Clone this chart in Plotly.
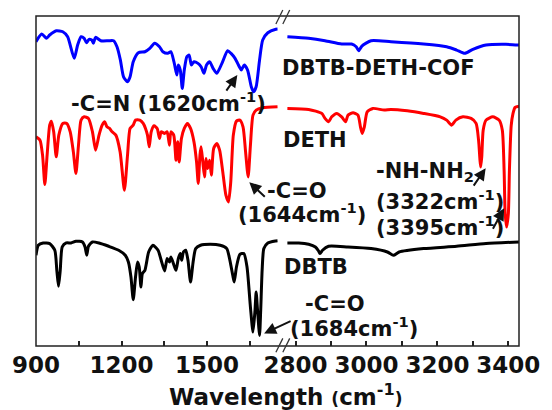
import plotly.graph_objects as go

# FT-IR spectra (transmittance, arbitrary units, stacked), wavenumber in cm^-1
COF_WN = [900, 920, 937, 948, 971, 994, 1011, 1034, 1046, 1058,
          1069, 1077, 1086, 1096, 1101, 1109, 1127, 1155, 1172, 1184,
          1196, 1207, 1221, 1230, 1241, 1259, 1282, 1299, 1316, 1333,
          1345, 1362, 1373, 1385, 1394, 1399, 1406, 1413, 1420, 1429,
          1437, 1445, 1454, 1468, 1479, 1489, 1498, 1509, 1521, 1534,
          1552, 1572, 1584, 1598, 1613, 1620, 1630, 1642, 1655, 1663,
          1672, 1684, 1695, 1713, 1741, 1747,
          2777, 2837, 2883, 2930, 2958, 2971, 2978, 2987, 3013, 3069,
          3161, 3226, 3254, 3277, 3300, 3337, 3393, 3430]
COF_T = [304, 311.6, 307.3, 310.6, 314.9, 313.9, 308.9, 287.3, 300.6, 308.9,
         307.3, 302.9, 306.3, 305.6, 302.3, 308.3, 304.9, 304.9, 304.9, 298.9,
         285.6, 268.9, 263.9, 268.9, 283.9, 292.9, 293.9, 297.3, 302.3, 298.9,
         293.9, 292.3, 293.9, 282.3, 270.6, 280.6, 275.6, 257.3, 275.6, 288.9,
         290.6, 280.6, 283.9, 282.3, 278.9, 272.3, 280.6, 283.9, 277.3, 272.3,
         282.3, 294.9, 292.3, 287.3, 278.9, 275.6, 280.6, 275.6, 258.9, 253.9,
         258.9, 285.6, 305.6, 312.9, 316.3, 316.5,
         308.9, 307.3, 304.9, 301.6, 301.6, 298.9, 294.9, 299.6, 304.9, 303.9,
         301.6, 298.9, 295.6, 292.3, 296.3, 300.6, 301.3, 300.6]

DETH_WN = [900, 914, 923, 931, 939, 948, 954, 962, 971, 980,
           994, 1008, 1020, 1031, 1040, 1049, 1058, 1069, 1084, 1098,
           1109, 1121, 1132, 1141, 1149, 1158, 1167, 1180, 1195, 1210,
           1221, 1230, 1241, 1249, 1264, 1276, 1284, 1291, 1297, 1304,
           1314, 1325, 1333, 1339, 1351, 1360, 1368, 1373, 1383, 1391,
           1397, 1402, 1410, 1420, 1431, 1442, 1454, 1463, 1469, 1475,
           1479, 1485, 1491, 1496, 1502, 1509, 1515, 1523, 1534, 1544,
           1555, 1566, 1575, 1583, 1592, 1603, 1615, 1626, 1635, 1644,
           1652, 1661, 1672, 1695, 1747,
           2777, 2837, 2874, 2883, 2893, 2902, 2916, 2930, 2941, 2948,
           2962, 2976, 2983, 2988, 2994, 3002, 3018, 3050, 3069, 3115,
           3161, 3208, 3226, 3240, 3252, 3272, 3295, 3309, 3316, 3320,
           3322, 3325, 3329, 3337, 3356, 3374, 3383, 3388, 3391, 3395,
           3400, 3403, 3408, 3413, 3419, 3430]
DETH_T = [208.9, 205.6, 190.6, 161.3, 190.6, 220.6, 224.6, 213.9, 188.9, 210.6,
          222.3, 222.3, 213.9, 193.9, 172.3, 200.6, 225.6, 228.9, 227.3, 213.9,
          195.6, 210.6, 220.6, 223.9, 218.9, 217.3, 213.9, 210.6, 193.9, 155.6,
          190.6, 217.3, 220.6, 225.6, 225.6, 222.3, 217.3, 210.6, 198.9, 213.9,
          219.9, 217.3, 207.3, 213.9, 212.3, 213.9, 200.6, 213.9, 210.6, 185.6,
          203.9, 183.9, 207.3, 217.3, 222.3, 217.3, 203.9, 183.9, 162.3, 190.6,
          198.9, 183.9, 168.9, 187.3, 177.3, 185.6, 170.6, 197.3, 202.3, 195.6,
          173.9, 150.6, 143.9, 163.9, 210.6, 224.6, 225.6, 218.9, 193.9, 168.9,
          200.6, 230.6, 235.6, 237.9, 238.9,
          237.3, 236.3, 232.3, 227.3, 223.9, 228.9, 232.3, 228.9, 223.9, 230.6,
          232.9, 230.6, 218.9, 212.3, 218.9, 233.9, 237.3, 235.6, 236.3, 234.9,
          232.3, 228.9, 225.6, 220.6, 225.6, 228.9, 227.3, 222.3, 205.6, 185.6,
          178.9, 188.9, 215.6, 225.6, 228.9, 225.6, 215.6, 175.6, 132.3, 118.9,
          132.3, 175.6, 220.0, 232.0, 238.3, 239.6]

DBTB_WN = [900, 908, 925, 948, 966, 973, 979, 985, 992, 1006,
           1023, 1040, 1063, 1072, 1078, 1084, 1098, 1121, 1155, 1190,
           1213, 1224, 1233, 1241, 1249, 1256, 1262, 1268, 1273, 1282,
           1287, 1295, 1310, 1328, 1339, 1351, 1360, 1368, 1373, 1382,
           1391, 1399, 1406, 1411, 1417, 1425, 1433, 1442, 1451, 1460,
           1477, 1511, 1546, 1569, 1580, 1590, 1595, 1603, 1615, 1629,
           1640, 1652, 1661, 1668, 1672, 1677, 1684, 1688, 1693, 1699,
           1713, 1741, 1747,
           2777, 2809, 2837, 2856, 2865, 2869, 2876, 2893, 2948, 3013,
           3059, 3076, 3092, 3161, 3254, 3337, 3430]
DBTB_T = [90.6, 100.6, 102.9, 102.3, 95.6, 75.6, 59.6, 75.6, 98.9, 102.9,
          102.9, 104.6, 103.9, 98.9, 90.6, 99.6, 103.9, 102.9, 99.6, 95.6,
          90.6, 83.9, 68.9, 46.3, 68.9, 83.9, 78.9, 58.9, 72.3, 75.6,
          82.3, 93.9, 100.6, 95.6, 85.6, 74.9, 87.3, 83.9, 88.9, 82.3,
          75.6, 87.3, 92.3, 85.6, 93.9, 95.6, 85.6, 63.9, 83.9, 97.3,
          100.6, 101.6, 100.6, 97.3, 85.6, 70.6, 63.9, 78.9, 91.6, 92.3,
          78.9, 38.9, 13.9, 35.6, 53.9, 35.6, 10.6, 35.6, 75.6, 97.3,
          102.9, 104.9, 105.1,
          102.9, 102.9, 101.6, 98.9, 94.9, 92.3, 95.6, 99.6, 98.9, 97.3,
          93.9, 90.6, 93.9, 97.3, 99.6, 102.3, 103.9]

SERIES = [("DBTB-DETH-COF", COF_WN, COF_T, "#0000ff"),
          ("DETH", DETH_WN, DETH_T, "#ff0000"),
          ("DBTB", DBTB_WN, DBTB_T, "#000000")]

LEFT_TICKS = [900, 1200, 1500]
LEFT_MINOR = [1050, 1350, 1650]
RIGHT_TICKS = [2800, 3000, 3200, 3400]
RIGHT_MINOR = [2900, 3100, 3300]

BREAK = 2000          # split between the fingerprint and the N-H/C-H regions
LEFT_DOMAIN = [0.0, 0.503]
RIGHT_DOMAIN = [0.519, 1.0]

FONT = "DejaVu Sans"
INK = "#111111"

fig = go.Figure()
for name, wn, t, color in SERIES:
    lo = [(w, v) for w, v in zip(wn, t) if w < BREAK]
    hi = [(w, v) for w, v in zip(wn, t) if w >= BREAK]
    for pts, xa in ((lo, "x"), (hi, "x2")):
        fig.add_trace(go.Scatter(
            x=[p[0] for p in pts], y=[p[1] for p in pts], xaxis=xa, yaxis="y",
            mode="lines", name=name, showlegend=False,
            line=dict(color=color, width=3, shape="spline", smoothing=0.6)))

tickfont = dict(family=FONT, size=23, color=INK, weight="bold")


def axis(domain, rng, major, minor):
    return dict(domain=domain, range=rng, anchor="y",
                tickmode="array", tickvals=major, ticks="inside",
                ticklen=5, tickwidth=1.5, tickcolor="#222",
                minor=dict(tickmode="array", tickvals=minor, ticks="inside",
                           ticklen=5, tickwidth=1.5, tickcolor="#222"),
                ticklabelstandoff=3,
                showgrid=False, zeroline=False, showline=False,
                tickfont=tickfont)


fig.update_layout(
    width=552, height=410,
    margin=dict(l=36, r=25, t=16, b=64),
    paper_bgcolor="white", plot_bgcolor="white",
    xaxis=axis(LEFT_DOMAIN, [900, 1752], LEFT_TICKS, LEFT_MINOR),
    xaxis2=axis(RIGHT_DOMAIN, [2775, 3430], RIGHT_TICKS, RIGHT_MINOR),
    yaxis=dict(range=[0, 329.6], visible=False, fixedrange=True),
)

# frame around the whole plotting area
fig.add_shape(type="rect", xref="paper", yref="paper", x0=0, x1=1, y0=0, y1=1,
              line=dict(color="#222", width=1.5))

# axis-break marks "//" at top and bottom of the gap
gx = (LEFT_DOMAIN[1] + RIGHT_DOMAIN[0]) / 2
dx, dy = 0.0143, 0.021
for yc in (0.002, 0.997):
    for off in (-dx / 2, dx / 2):
        fig.add_shape(type="line", xref="paper", yref="paper",
                      x0=gx + off - dx / 2, x1=gx + off + dx / 2,
                      y0=yc - dy, y1=yc + dy,
                      line=dict(color="#333", width=1.3))

lab = dict(family=FONT, size=21, color=INK, weight="bold")


def text(x, y, s, xref="x2", xanchor="center"):
    fig.add_annotation(x=x, y=y, xref=xref, yref="y", text=s, showarrow=False,
                       font=lab, xanchor=xanchor, yanchor="middle")


def arrow(x, y, ax, ay, xref="x"):
    fig.add_annotation(x=x, y=y, xref=xref, yref="y", ax=ax, ay=ay, text="",
                       showarrow=True, arrowhead=2, arrowsize=1.2,
                       arrowwidth=2, arrowcolor=INK, standoff=0)


text(1365, 243.6, "-C=N (1620cm<sup>-1</sup>)", xref="x")
text(3033, 277.6, "DBTB-DETH-COF")
text(2856, 205.6, "DETH")
text(2803, 155.1, "-C=O")
text(2817, 133.1, "(1644cm<sup>-1</sup>)")
text(3022, 173.6, "-NH-NH<sub>2</sub>", xanchor="left")
text(3022, 145.6, "(3322cm<sup>-1</sup>)", xanchor="left")
text(3022, 119.6, "(3395cm<sup>-1</sup>)", xanchor="left")
text(2858, 78.6, "DBTB")
text(2911, 41.6, "-C=O")
text(2964, 18.6, "(1684cm<sup>-1</sup>)")

arrow(1606, 270.6, -12, 17)
arrow(1648, 163.6, 17, 16)
arrow(3336, 177.6, -13, 19, xref="x2")
arrow(3388, 137.6, -12, 22, xref="x2")
arrow(1700, 12.6, 28, -13)

fig.add_annotation(
    x=0.517, y=-0.197, xref="paper", yref="paper", showarrow=False,
    xanchor="center", yanchor="bottom", borderpad=0,
    text="Wavelength <span style='font-size:17px'>(</span>cm<sup>-1</sup>"
         "<span style='font-size:17px'>)</span>",
    font=dict(family=FONT, size=23, color=INK, weight="bold"))

fig.write_html("out.html")
